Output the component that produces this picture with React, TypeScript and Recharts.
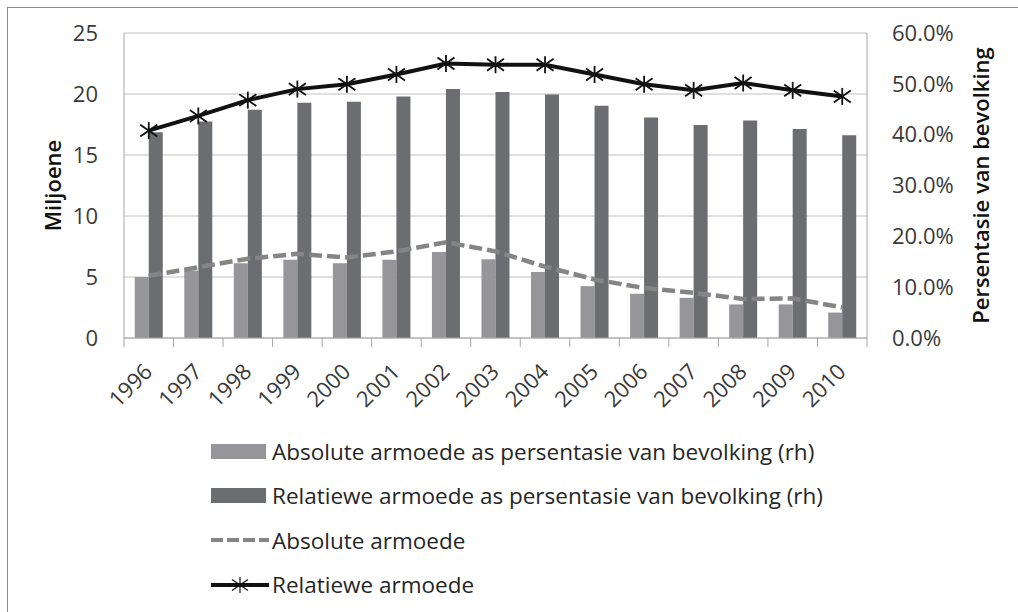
import React from "react";
import {
  ComposedChart,
  Bar,
  Line,
  XAxis,
  YAxis,
  CartesianGrid,
} from "recharts";

/* ===== Data ===== */
const years = [
  "1996", "1997", "1998", "1999", "2000", "2001", "2002", "2003",
  "2004", "2005", "2006", "2007", "2008", "2009", "2010",
];

// bars, right axis (% of population)
const absolutePct = [12.0, 13.3, 14.7, 15.4, 14.7, 15.4, 16.9, 15.5, 13.0, 10.2, 8.7, 7.9, 6.6, 6.6, 5.0];
const relativePct = [40.5, 42.6, 44.9, 46.3, 46.5, 47.5, 49.0, 48.4, 47.9, 45.7, 43.4, 41.9, 42.8, 41.1, 39.9];

// lines, left axis (millions)
const absoluteMil = [5.1, 5.8, 6.5, 6.9, 6.6, 7.1, 7.85, 7.1, 5.85, 4.8, 4.1, 3.7, 3.2, 3.25, 2.5];
const relativeMil = [17.0, 18.2, 19.5, 20.4, 20.8, 21.6, 22.5, 22.4, 22.4, 21.6, 20.8, 20.3, 20.9, 20.3, 19.8];

const leftTicks = [0, 5, 10, 15, 20, 25];
const rightTicks = [0, 10, 20, 30, 40, 50, 60];

const legendItems = [
  { key: "absPct", label: "Absolute armoede as persentasie van bevolking (rh)" },
  { key: "relPct", label: "Relatiewe armoede as persentasie van bevolking (rh)" },
  { key: "absMil", label: "Absolute armoede" },
  { key: "relMil", label: "Relatiewe armoede" },
];

/* ===== Styles ===== */
const FONT = "'Open Sans', sans-serif";
const LIGHT = "#96969a";
const DARK = "#6c6d71";
const DASH = "#858585";
const AXIS = "#a6a6a6";
const TEXT = "#3a3a3a";

const CHART_W = 1010;
const LEFT_W = 116;
const RIGHT_W = 151;
const PLOT_W = CHART_W - LEFT_W - RIGHT_W;
const HALF_BAND = PLOT_W / years.length / 2;

const data = years.map((year, i) => ({
  year,
  absPct: absolutePct[i],
  relPct: relativePct[i],
  absMil: absoluteMil[i],
  relMil: relativeMil[i],
}));

/* ===== Custom year tick: boundary tick marks + rotated label ===== */
function YearTick({ x, y, payload, index }: any) {
  const ax = x + 5;
  const ay = y + 35;
  return (
    <g>
      <line x1={x - HALF_BAND} y1={y} x2={x - HALF_BAND} y2={y + 9} stroke={AXIS} />
      {index === years.length - 1 && (
        <line x1={x + HALF_BAND} y1={y} x2={x + HALF_BAND} y2={y + 9} stroke={AXIS} />
      )}
      <text
        x={ax}
        y={ay}
        textAnchor="end"
        transform={`rotate(-45 ${ax} ${ay})`}
        fill={TEXT}
        fontSize={22}
        fontFamily={FONT}
      >
        {payload.value}
      </text>
    </g>
  );
}

/* ===== Star marker (X + vertical bar) ===== */
function Star({ cx, cy, size = 8.5, width = 1.8 }: any) {
  return (
    <g stroke="#111" strokeWidth={width}>
      <line x1={cx} y1={cy - size} x2={cx} y2={cy + size} />
      <line x1={cx - size} y1={cy - size * 0.7} x2={cx + size} y2={cy + size * 0.7} />
      <line x1={cx - size} y1={cy + size * 0.7} x2={cx + size} y2={cy - size * 0.7} />
    </g>
  );
}

function AxisTitle({ viewBox, text, dx }: any) {
  const cx = viewBox.x + dx;
  const cy = viewBox.y + viewBox.height / 2;
  return (
    <text
      x={cx}
      y={cy}
      transform={`rotate(-90 ${cx} ${cy})`}
      textAnchor="middle"
      dominantBaseline="central"
      fill="#111"
      fontSize={22}
      fontWeight={600}
      fontFamily={FONT}
    >
      {text}
    </text>
  );
}

function LegendSwatch({ k }: { k: string }) {
  if (k === "absPct" || k === "relPct") {
    return (
      <div
        style={{
          width: 55,
          height: 15,
          background: k === "absPct" ? LIGHT : DARK,
        }}
      />
    );
  }
  return (
    <svg width={58} height={20} style={{ display: "block" }}>
      {k === "absMil" ? (
        <line x1={0} y1={10} x2={58} y2={10} stroke={DASH} strokeWidth={4} strokeDasharray="12 4" />
      ) : (
        <>
          <line x1={0} y1={10} x2={58} y2={10} stroke="#111" strokeWidth={4} />
          <Star cx={29} cy={10} size={8} width={1.2} />
        </>
      )}
    </svg>
  );
}

export default function App() {
  return (
    <div
      style={{
        position: "absolute",
        left: 7,
        top: 7,
        width: 1011,
        height: 605,
        boxSizing: "border-box",
        borderLeft: "1px solid #8c8c8c",
        borderTop: "1px solid #8c8c8c",
        background: "#fff",
        fontFamily: FONT,
      }}
    >
      <ComposedChart
        width={CHART_W}
        height={430}
        data={data}
        margin={{ top: 25, right: 0, bottom: 0, left: 0 }}
        barCategoryGap="21.7%"
        barGap={0}
      >
        <CartesianGrid yAxisId="left" vertical={false} stroke="#c0c0c0" />
        <XAxis
          dataKey="year"
          height={100}
          interval={0}
          tickSize={0}
          tickMargin={0}
          tickLine={false}
          axisLine={{ stroke: AXIS }}
          tick={<YearTick />}
        />
        <YAxis
          yAxisId="left"
          width={LEFT_W}
          domain={[0, 25]}
          ticks={leftTicks}
          tickSize={0}
          tickMargin={26}
          tickLine={false}
          axisLine={{ stroke: AXIS }}
          tick={{ fill: TEXT, fontSize: 22, fontFamily: FONT }}
          label={{ content: (p: any) => <AxisTitle {...p} text="Miljoene" dx={44} /> }}
        />
        <YAxis
          yAxisId="right"
          orientation="right"
          width={RIGHT_W}
          domain={[0, 60]}
          ticks={rightTicks}
          tickSize={0}
          tickMargin={25}
          tickLine={false}
          axisLine={{ stroke: AXIS }}
          tickFormatter={(v: number) => v.toFixed(1) + "%"}
          tick={{ fill: TEXT, fontSize: 22, fontFamily: FONT }}
          label={{
            content: (p: any) => (
              <AxisTitle {...p} text="Persentasie van bevolking" dx={113} />
            ),
          }}
        />
        <Bar yAxisId="right" dataKey="absPct" fill={LIGHT} isAnimationActive={false} />
        <Bar yAxisId="right" dataKey="relPct" fill={DARK} isAnimationActive={false} />
        <Line
          yAxisId="left"
          dataKey="absMil"
          type="linear"
          stroke={DASH}
          strokeWidth={4.5}
          strokeDasharray="13 5"
          dot={false}
          activeDot={false}
          isAnimationActive={false}
        />
        <Line
          yAxisId="left"
          dataKey="relMil"
          type="linear"
          stroke="#111"
          strokeWidth={4}
          dot={(p: any) => <Star key={p.index} cx={p.cx} cy={p.cy} />}
          activeDot={false}
          isAnimationActive={false}
        />
      </ComposedChart>

      {/* ===== Legend ===== */}
      <div style={{ position: "absolute", left: 203, top: 421 }}>
        {legendItems.map((item) => (
          <div
            key={item.key}
            style={{
              display: "flex",
              alignItems: "center",
              height: 44.5,
              fontSize: 22.5,
              color: "#262626",
              whiteSpace: "nowrap",
            }}
          >
            <div style={{ width: 61, display: "flex", alignItems: "center" }}>
              <LegendSwatch k={item.key} />
            </div>
            <span>{item.label}</span>
          </div>
        ))}
      </div>
    </div>
  );
}
